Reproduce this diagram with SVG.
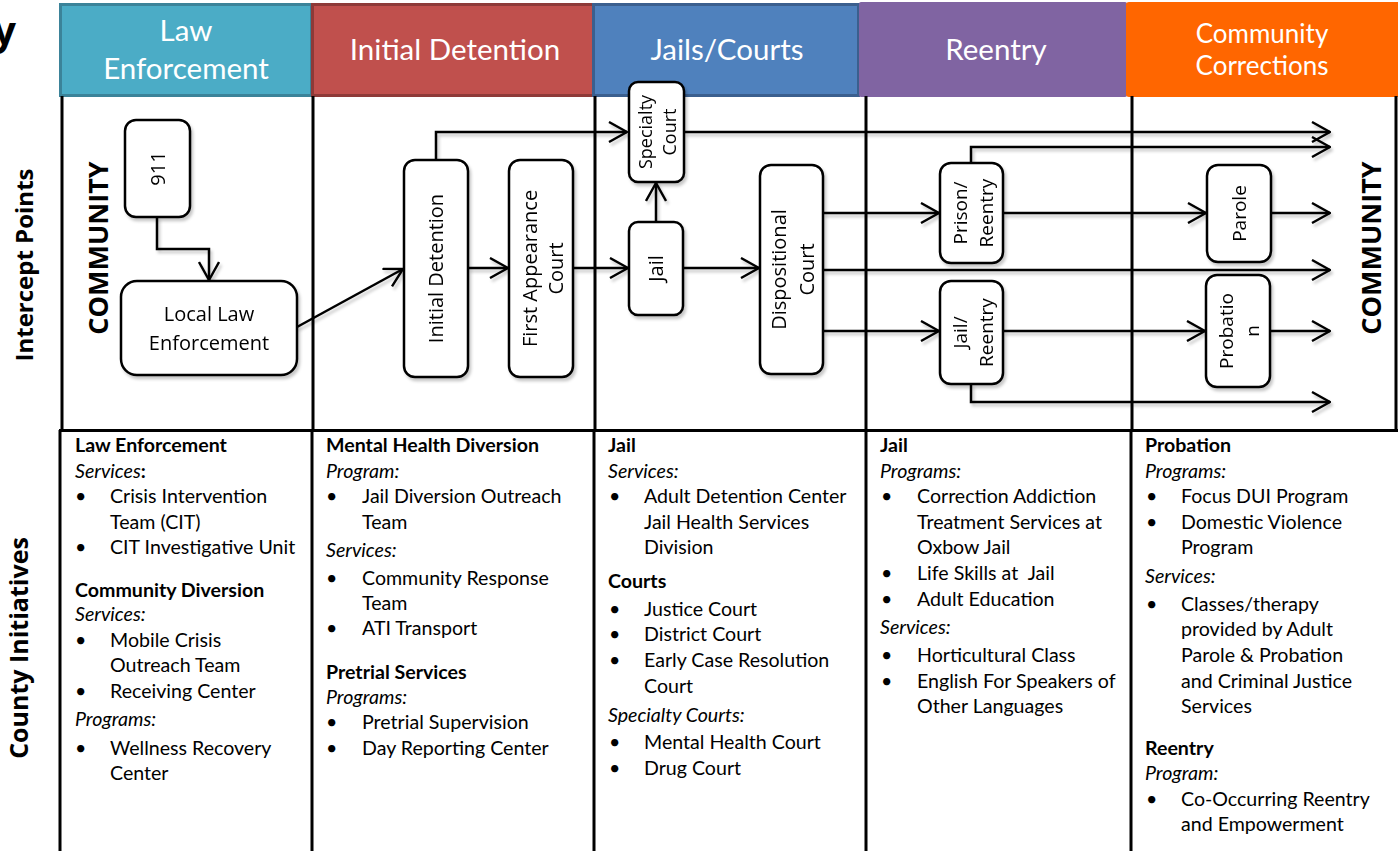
<svg xmlns="http://www.w3.org/2000/svg" width="1398" height="851" viewBox="0 0 1398 851">
  <defs>
    <style>
      .hdr { font-family: Lato, "Open Sans", sans-serif; fill: #fff; text-anchor: middle; }
      .node rect { fill: #fff; stroke: #000; stroke-width: 2.5; }
      .node text { font-family: "Open Sans", "Noto Sans", sans-serif; font-size: 20px; fill: #000; text-anchor: middle; }
      .grid { stroke: #000; stroke-width: 3; fill: none; }
      .conn path { fill: none; stroke: #000; stroke-width: 2.5; marker-end: url(#arr); }
      .side { font-family: "Open Sans", sans-serif; font-weight: bold; fill: #000; text-anchor: middle; }
      .list text { font-family: Lato, "Open Sans", sans-serif; font-size: 19.6px; fill: #000; }
      .b { font-weight: bold; }
      .i { font-style: italic; }
    </style>
    <marker id="arr" viewBox="0 0 20 22" refX="19" refY="11" markerWidth="20" markerHeight="22" orient="auto" markerUnits="userSpaceOnUse">
      <path d="M1,1 L19,11 L1,21" fill="none" stroke="#000" stroke-width="2.4"/>
    </marker>
    <filter id="sh" x="-10%" y="-10%" width="130%" height="130%">
      <feDropShadow dx="2" dy="3" stdDeviation="1.6" flood-color="#000" flood-opacity="0.22"/>
    </filter>
  </defs>

  <rect width="1398" height="851" fill="#fff"/>

  <!-- title fragment at the left edge -->
  <text x="16" y="45" class="side" style="font-size:40px;text-anchor:end">y</text>

  <!-- stage headers -->
  <g id="hdr-law">
    <rect x="60.5" y="4.5" width="251" height="91" fill="#4BACC6" stroke="#3B8399" stroke-width="3"/>
    <text class="hdr" x="186" y="41" font-size="29.5">Law</text>
    <text class="hdr" x="186" y="79" font-size="29.5">Enforcement</text>
  </g>
  <g id="hdr-detention">
    <rect x="312.5" y="4.5" width="281" height="91" fill="#C0504D" stroke="#8E3A38" stroke-width="3"/>
    <text class="hdr" x="455" y="60" font-size="29.5">Initial Detention</text>
  </g>
  <g id="hdr-courts">
    <rect x="593.5" y="4.5" width="265" height="91" fill="#4F81BD" stroke="#3B5F8E" stroke-width="3"/>
    <text class="hdr" x="727" y="60" font-size="29.5">Jails/Courts</text>
  </g>
  <g id="hdr-reentry">
    <rect x="859" y="2" width="268" height="95" rx="2" fill="#8064A2"/>
    <text class="hdr" x="996" y="60" font-size="29.5">Reentry</text>
  </g>
  <g id="hdr-corrections">
    <rect x="1126" y="2" width="274" height="95" rx="3" fill="#FF6600"/>
    <text class="hdr" x="1262" y="43" font-size="26">Community</text>
    <text class="hdr" x="1262" y="75" font-size="26">Corrections</text>
  </g>

  <!-- table grid -->
  <g id="grid" class="grid">
    <path d="M62,96 V430 M313,96 V430 M595,96 V430 M866,96 V430 M1132,96 V430 M1396,96 V430"/>
    <path d="M59,430.5 H1398"/>
    <path d="M60,430 V851 M312,430 V851 M594,430 V851 M866,430 V851 M1131,430 V851"/>
  </g>

  <!-- row labels -->
  <text class="side" font-size="24" transform="translate(33,265) rotate(-90)">Intercept Points</text>
  <text class="side" font-size="25" transform="translate(28,648) rotate(-90)">County Initiatives</text>
  <text class="side" font-size="27" transform="translate(108,248) rotate(-90)">COMMUNITY</text>
  <text class="side" font-size="27" transform="translate(1381,248) rotate(-90)">COMMUNITY</text>

  <!-- connectors -->
  <g id="connectors" class="conn" filter="url(#sh)">
    <path d="M157,217 V249 H209 V280"/>
    <path d="M297,327 L403,269"/>
    <path d="M436,160 V132 H627"/>
    <path d="M468,268 H508"/>
    <path d="M573,268 H628"/>
    <path d="M656,222 V183"/>
    <path d="M683,268 H759"/>
    <path d="M684,132 H1330"/>
    <path d="M971,163 V147 H1330"/>
    <path d="M823,213 H939"/>
    <path d="M823,270 H1330"/>
    <path d="M823,331 H939"/>
    <path d="M1003,213 H1206"/>
    <path d="M1271,213 H1330"/>
    <path d="M1003,331 H1205"/>
    <path d="M1270,331 H1330"/>
    <path d="M971,384 V402 H1330"/>
  </g>

  <!-- intercept nodes -->
  <g id="n-911" class="node" filter="url(#sh)">
    <rect x="125" y="120" width="65" height="97" rx="11"/>
    <text transform="translate(157.5,168.5) rotate(-90)" y="7">911</text>
  </g>
  <g id="n-local-law" class="node" filter="url(#sh)">
    <rect x="121" y="281" width="176" height="94" rx="16"/>
    <text x="209" y="321">Local Law</text>
    <text x="209" y="350">Enforcement</text>
  </g>
  <g id="n-initial-detention" class="node" filter="url(#sh)">
    <rect x="404" y="160" width="64" height="217" rx="11"/>
    <text transform="translate(436,268.5) rotate(-90)" y="7">Initial Detention</text>
  </g>
  <g id="n-first-appearance" class="node" filter="url(#sh)">
    <rect x="509" y="160" width="64" height="217" rx="11"/>
    <text transform="translate(541,268.5) rotate(-90)"><tspan x="0" y="-4">First Appearance</tspan><tspan x="0" y="22">Court</tspan></text>
  </g>
  <g id="n-specialty" class="node" filter="url(#sh)">
    <rect x="629" y="82" width="55" height="100" rx="9"/>
    <text transform="translate(656.5,132) rotate(-90)" style="font-size:18px"><tspan x="0" y="-5">Specialty</tspan><tspan x="0" y="19">Court</tspan></text>
  </g>
  <g id="n-jail" class="node" filter="url(#sh)">
    <rect x="629" y="222" width="54" height="93" rx="9"/>
    <text transform="translate(656,268.5) rotate(-90)" y="7">Jail</text>
  </g>
  <g id="n-dispositional" class="node" filter="url(#sh)">
    <rect x="760" y="165" width="63" height="209" rx="11"/>
    <text transform="translate(791.5,269.5) rotate(-90)"><tspan x="0" y="-6">Dispositional</tspan><tspan x="0" y="22">Court</tspan></text>
  </g>
  <g id="n-prison-reentry" class="node" filter="url(#sh)">
    <rect x="940" y="163" width="63" height="100" rx="11"/>
    <text transform="translate(971.5,213) rotate(-90)" style="font-size:19px"><tspan x="0" y="-5">Prison/</tspan><tspan x="0" y="21">Reentry</tspan></text>
  </g>
  <g id="n-jail-reentry" class="node" filter="url(#sh)">
    <rect x="940" y="281" width="63" height="103" rx="11"/>
    <text transform="translate(971.5,332.5) rotate(-90)" style="font-size:19px"><tspan x="0" y="-5">Jail/</tspan><tspan x="0" y="21">Reentry</tspan></text>
  </g>
  <g id="n-parole" class="node" filter="url(#sh)">
    <rect x="1207" y="165" width="64" height="97" rx="11"/>
    <text transform="translate(1239,213.5) rotate(-90)" style="font-size:19px" y="7">Parole</text>
  </g>
  <g id="n-probation" class="node" filter="url(#sh)">
    <rect x="1206" y="275" width="64" height="112" rx="11"/>
    <text transform="translate(1238,331) rotate(-90)" style="font-size:19px"><tspan x="0" y="-5">Probatio</tspan><tspan x="0" y="21">n</tspan></text>
  </g>

  <!-- county initiatives -->
  <g id="list-law" class="list">
    <text x="75" y="452" class="b">Law Enforcement</text>
    <text x="75" y="478"><tspan class="i">Services</tspan><tspan class="b">:</tspan></text>
    <text x="75" y="503">•</text><text x="110" y="503">Crisis Intervention</text>
    <text x="110" y="529">Team (CIT)</text>
    <text x="75" y="554">•</text><text x="110" y="554">CIT Investigative Unit</text>
    <text x="75" y="597" class="b">Community Diversion</text>
    <text x="75" y="621" class="i">Services:</text>
    <text x="75" y="647">•</text><text x="110" y="647">Mobile Crisis</text>
    <text x="110" y="672">Outreach Team</text>
    <text x="75" y="698">•</text><text x="110" y="698">Receiving Center</text>
    <text x="75" y="726" class="i">Programs:</text>
    <text x="75" y="755">•</text><text x="110" y="755">Wellness Recovery</text>
    <text x="110" y="780">Center</text>
  </g>
  <g id="list-detention" class="list">
    <text x="326" y="452" class="b">Mental Health Diversion</text>
    <text x="326" y="478" class="i">Program:</text>
    <text x="326" y="503">•</text><text x="362" y="503">Jail Diversion Outreach</text>
    <text x="362" y="529">Team</text>
    <text x="326" y="557" class="i">Services:</text>
    <text x="326" y="585">•</text><text x="362" y="585">Community Response</text>
    <text x="362" y="610">Team</text>
    <text x="326" y="635">•</text><text x="362" y="635">ATI Transport</text>
    <text x="326" y="679" class="b">Pretrial Services</text>
    <text x="326" y="704" class="i">Programs:</text>
    <text x="326" y="729">•</text><text x="362" y="729">Pretrial Supervision</text>
    <text x="326" y="755">•</text><text x="362" y="755">Day Reporting Center</text>
  </g>
  <g id="list-courts" class="list">
    <text x="608" y="452" class="b">Jail</text>
    <text x="608" y="478" class="i">Services:</text>
    <text x="609" y="503">•</text><text x="644" y="503">Adult Detention Center</text>
    <text x="644" y="529">Jail Health Services</text>
    <text x="644" y="554">Division</text>
    <text x="608" y="588" class="b">Courts</text>
    <text x="609" y="616">•</text><text x="644" y="616">Justice Court</text>
    <text x="609" y="641">•</text><text x="644" y="641">District Court</text>
    <text x="609" y="667">•</text><text x="644" y="667">Early Case Resolution</text>
    <text x="644" y="693">Court</text>
    <text x="608" y="722" class="i">Specialty Courts:</text>
    <text x="609" y="749">•</text><text x="644" y="749">Mental Health Court</text>
    <text x="609" y="775">•</text><text x="644" y="775">Drug Court</text>
  </g>
  <g id="list-reentry" class="list">
    <text x="880" y="452" class="b">Jail</text>
    <text x="880" y="478" class="i">Programs:</text>
    <text x="881" y="503">•</text><text x="917" y="503">Correction Addiction</text>
    <text x="917" y="529">Treatment Services at</text>
    <text x="917" y="554">Oxbow Jail</text>
    <text x="881" y="580">•</text><text x="917" y="580" xml:space="preserve">Life Skills at  Jail</text>
    <text x="881" y="606">•</text><text x="917" y="606">Adult Education</text>
    <text x="880" y="634" class="i">Services:</text>
    <text x="881" y="662">•</text><text x="917" y="662">Horticultural Class</text>
    <text x="881" y="688">•</text><text x="917" y="688">English For Speakers of</text>
    <text x="917" y="713">Other Languages</text>
  </g>
  <g id="list-corrections" class="list">
    <text x="1145" y="452" class="b">Probation</text>
    <text x="1145" y="478" class="i">Programs:</text>
    <text x="1146" y="503">•</text><text x="1181" y="503">Focus DUI Program</text>
    <text x="1146" y="529">•</text><text x="1181" y="529">Domestic Violence</text>
    <text x="1181" y="554">Program</text>
    <text x="1145" y="583" class="i">Services:</text>
    <text x="1146" y="611">•</text><text x="1181" y="611">Classes/therapy</text>
    <text x="1181" y="636">provided by Adult</text>
    <text x="1181" y="662">Parole &amp; Probation</text>
    <text x="1181" y="688">and Criminal Justice</text>
    <text x="1181" y="713">Services</text>
    <text x="1145" y="755" class="b">Reentry</text>
    <text x="1145" y="780" class="i">Program:</text>
    <text x="1146" y="806">•</text><text x="1181" y="806">Co-Occurring Reentry</text>
    <text x="1181" y="831">and Empowerment</text>
  </g>
</svg>
